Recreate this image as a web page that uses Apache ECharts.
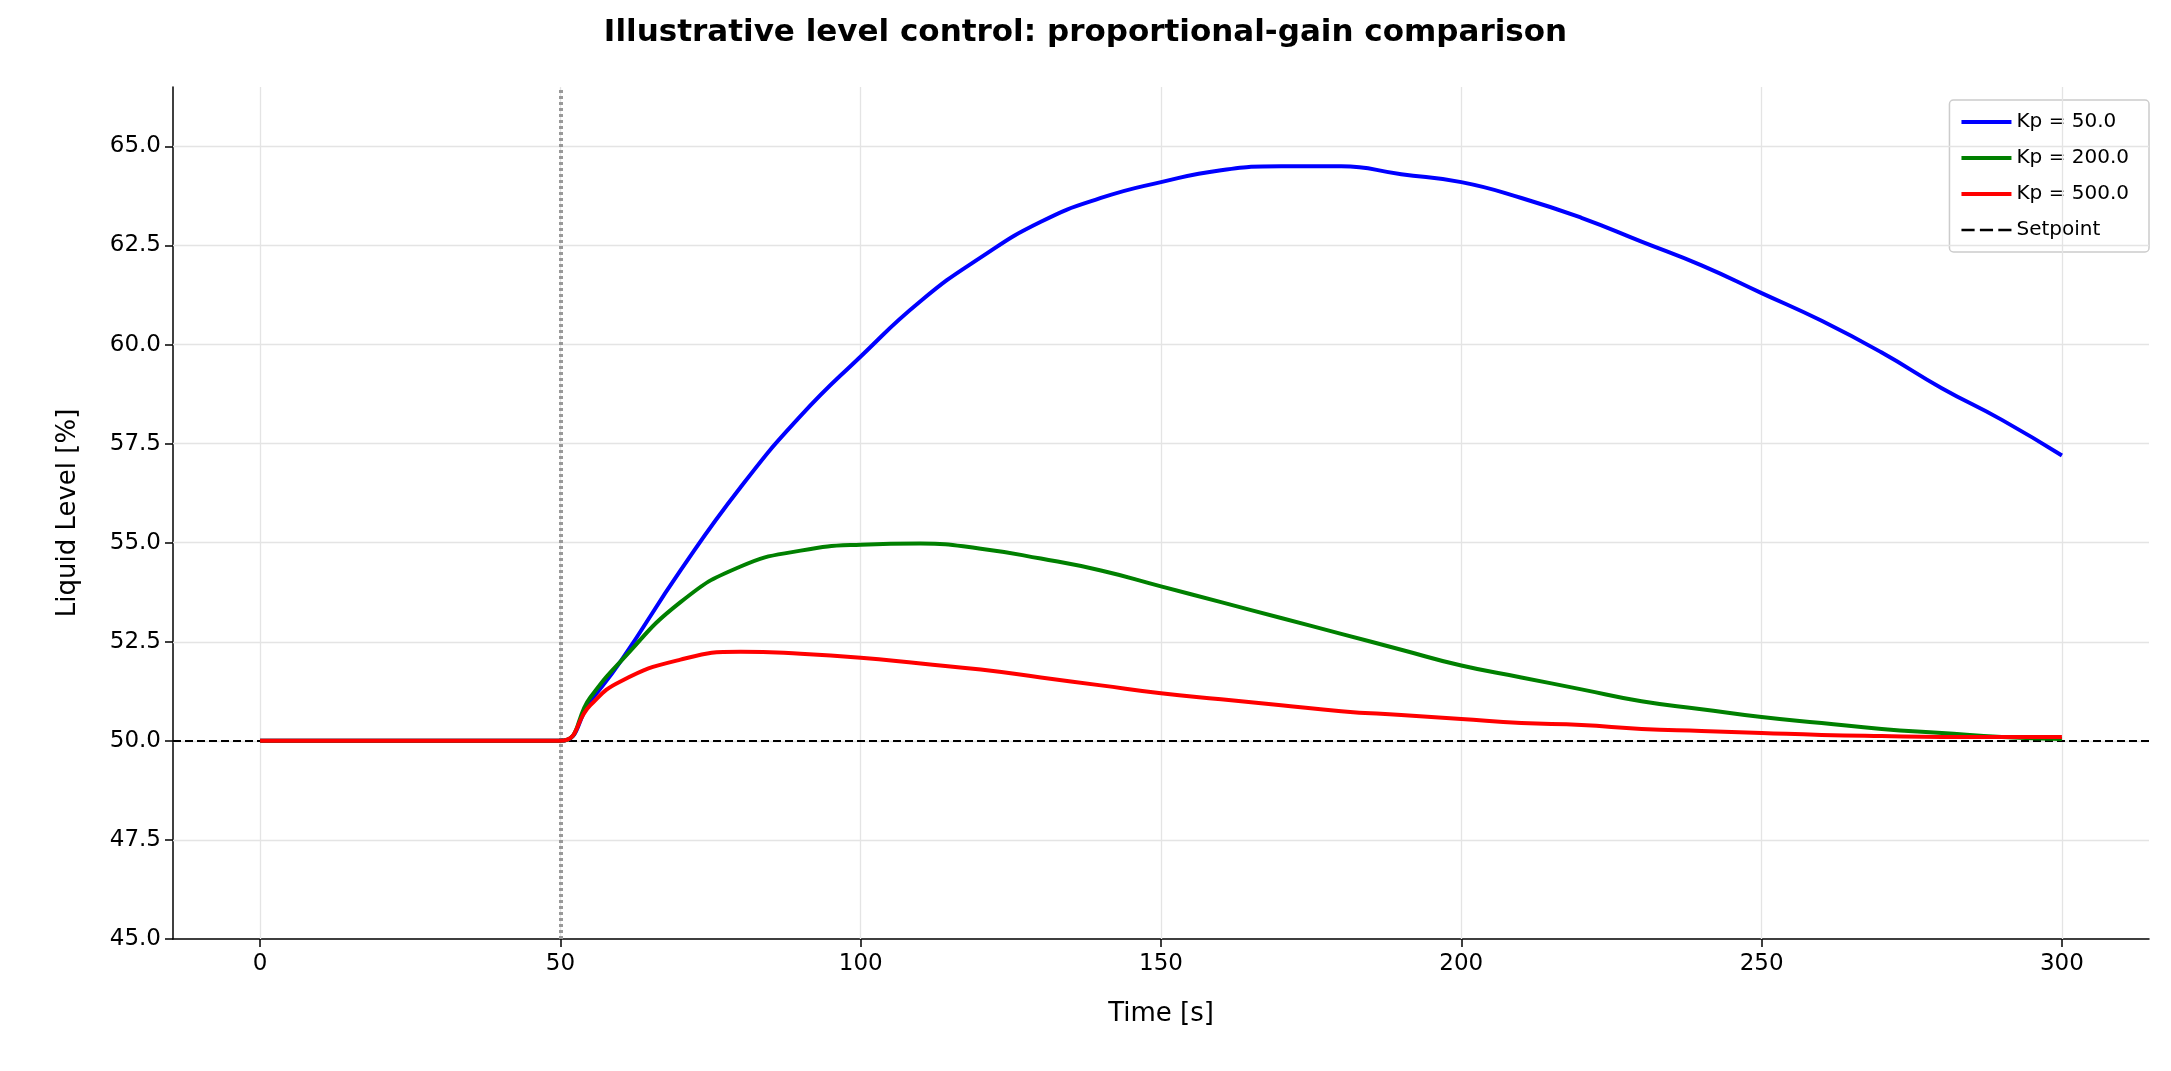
<!DOCTYPE html>
<html><head><meta charset="utf-8">
<script src="https://cdn.jsdelivr.net/npm/echarts@6/dist/echarts.min.js"></script>
<style>html,body{margin:0;padding:0;background:#fff}#c{width:2171px;height:1071px}</style>
</head><body><div id="c"></div>
<script>
const times = [0,10,20,30,40,50,55,60,70,80,90,100,110,120,130,140,150,160,170,180,190,200,210,220,230,240,250,260,270,280,290,300];
const kp50  = [50,50,50,50,50,50,51.0,52.0,54.3,56.4,58.2,59.7,61.1,62.2,63.1,63.7,64.1,64.4,64.5,64.5,64.3,64.1,63.7,63.2,62.6,62.0,61.3,60.6,59.8,58.9,58.1,57.2];
const kp200 = [50,50,50,50,50,50,51.1,52.0,53.5,54.4,54.8,54.95,54.98,54.85,54.6,54.3,53.9,53.5,53.1,52.7,52.3,51.9,51.6,51.3,51.0,50.8,50.6,50.45,50.3,50.2,50.1,50.05];
const kp500 = [50,50,50,50,50,50,50.9,51.5,52.05,52.25,52.2,52.1,51.95,51.8,51.6,51.4,51.2,51.05,50.9,50.75,50.65,50.55,50.45,50.4,50.3,50.25,50.2,50.15,50.12,50.1,50.1,50.1];
const xTicks = [0,50,100,150,200,250,300];
const yTicks = [45,47.5,50,52.5,55,57.5,60,62.5,65];
const setpoint = 50, stepTime = 50;
const pair = a => times.map((t,i)=>[t,a[i]]);
const font = 'DejaVu Sans';
const gridLine = {color:'#e4e4e4',width:1.3,type:'solid'};
const chart = echarts.init(document.getElementById('c'));
chart.setOption({
  animation:false,
  textStyle:{fontFamily:font},
  title:{text:'Illustrative level control: proportional-gain comparison',left:'center',top:12,
    textStyle:{fontFamily:font,fontSize:31,fontWeight:'bold',color:'#000'}},
  grid:{left:173,right:22,top:87,bottom:132},
  legend:{right:22,top:100,orient:'vertical',itemWidth:50,itemHeight:4,itemGap:16,
    backgroundColor:'#fff',borderColor:'#ccc',borderWidth:1.5,borderRadius:4,padding:[12,20,12,12],
    textStyle:{fontFamily:font,fontSize:20,color:'#000'},
    data:[{name:'Kp = 50.0',icon:'rect'},{name:'Kp = 200.0',icon:'rect'},{name:'Kp = 500.0',icon:'rect'},{name:'Setpoint',icon:'path://M0,0H10V2H0ZM14,0H24V2H14ZM28,0H38V2H28Z'}]},
  xAxis:{type:'value',min:-14.5,max:314.5,name:'Time [s]',nameLocation:'middle',nameGap:62,
    nameTextStyle:{fontFamily:font,fontSize:26,color:'#000'},
    axisLine:{onZero:false,lineStyle:{color:'#000',width:1.5}},
    axisTick:{customValues:xTicks,length:8,lineStyle:{color:'#000',width:1.5}},
    axisLabel:{customValues:xTicks,fontSize:23,color:'#000',margin:14,fontFamily:font},
    splitLine:{show:false}},
  yAxis:{type:'value',min:45,max:66.5,name:'Liquid Level [%]',nameLocation:'middle',nameGap:92,
    nameTextStyle:{fontFamily:font,fontSize:26,color:'#000'},
    axisLine:{show:true,onZero:false,lineStyle:{color:'#000',width:1.5}},
    axisTick:{show:true,customValues:yTicks,length:8,lineStyle:{color:'#000',width:1.5}},
    axisLabel:{customValues:yTicks,fontSize:23,color:'#000',margin:12,fontFamily:font,formatter:v=>v.toFixed(1)},
    splitLine:{show:false}},
  series:[
    {name:'grid',type:'line',data:[],silent:true,
      markLine:{symbol:'none',silent:true,label:{show:false},lineStyle:gridLine,
        data:xTicks.map(v=>({xAxis:v})).concat(yTicks.slice(1).map(v=>({yAxis:v})))}},
    {name:'Kp = 50.0',type:'line',data:pair(kp50),smooth:0.5,showSymbol:false,lineStyle:{color:'#0000ff',width:4},itemStyle:{color:'#0000ff'},z:5},
    {name:'Kp = 200.0',type:'line',data:pair(kp200),smooth:0.5,showSymbol:false,lineStyle:{color:'#008000',width:4},itemStyle:{color:'#008000'},z:5},
    {name:'Kp = 500.0',type:'line',data:pair(kp500),smooth:0.5,showSymbol:false,lineStyle:{color:'#ff0000',width:4},itemStyle:{color:'#ff0000'},z:6},
    {name:'Setpoint',type:'line',data:[],itemStyle:{color:'#000'},lineStyle:{color:'#000',type:'dashed',width:2},
      markLine:{symbol:'none',silent:true,label:{show:false},lineStyle:{color:'#000',type:[8,4],width:2},
        data:[{yAxis:setpoint}]},z:7},
    {name:'step',type:'line',data:[],
      markLine:{symbol:'none',silent:true,label:{show:false},lineStyle:{color:'#999',type:[3,3],width:4},
        data:[{xAxis:stepTime}]},z:4}
  ]
});
</script></body></html>
